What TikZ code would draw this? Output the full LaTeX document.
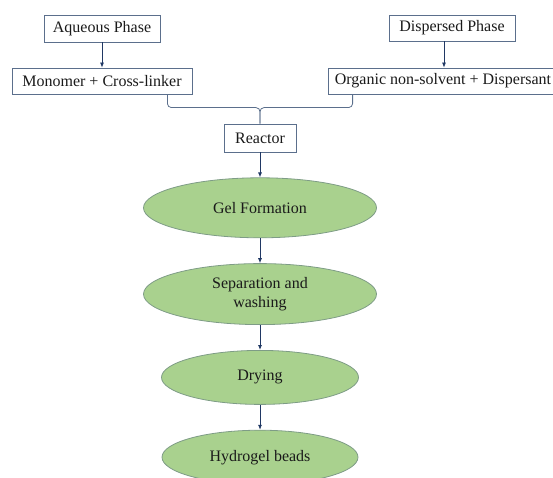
\documentclass[tikz,border=0pt]{standalone}
\usepackage{fontspec}
\setmainfont{Liberation Serif}
\usetikzlibrary{arrows.meta,positioning,shapes.geometric,calc}
\definecolor{boxline}{HTML}{5B6F8C}
\definecolor{arrowblue}{HTML}{203864}
\definecolor{gelfill}{HTML}{A9D18E}
\definecolor{gelline}{HTML}{7E9C86}
\definecolor{inktext}{HTML}{1A1A1A}

\begin{document}
\begin{tikzpicture}[x=1pt, y=-1pt,
  phasebox/.style={draw=boxline, line width=0.8pt, fill=white, minimum height=26pt, inner sep=2pt, align=center, text=inktext, font=\fontsize{16}{18.5}\selectfont},
  stagebox/.style={ellipse, draw=gelline, line width=0.8pt, fill=gelfill, inner sep=2pt, align=center, text=inktext, font=\fontsize{16}{18.5}\selectfont},
  arr/.style={-{Latex[length=5pt,width=4pt]}, line width=0.8pt, color=arrowblue},
  joinline/.style={draw=boxline, line width=0.8pt, rounded corners=4pt}
]
\useasboundingbox (0,0) rectangle (553,478);
\node[phasebox, minimum width=116pt, minimum height=27pt] (aq) at (102,28.5) {Aqueous Phase};
\node[phasebox, minimum width=126pt] (disp) at (452,28) {Dispersed Phase};
\node[phasebox, minimum width=180pt] (mono) at (102,81) {Monomer + Cross-linker};
\node[phasebox, minimum width=230pt] (org) at (443,81) {Organic non-solvent + Dispersant};
\node[phasebox, minimum width=72pt, minimum height=28pt] (reactor) at (260,138) {Reactor};
\node[stagebox, minimum width=233pt, minimum height=60pt, below=25pt of reactor] (gel) {Gel Formation};
\node[stagebox, minimum width=233pt, minimum height=61pt, below=25pt of gel] (sep) {Separation and\\washing};
\node[stagebox, minimum width=197pt, minimum height=54pt, below=25pt of sep] (dry) {Drying};
\node[stagebox, minimum width=196pt, minimum height=54pt, below=25pt of dry] (beads) {Hydrogel beads};
\coordinate (mid) at ($(reactor.north)+(0,-16)$);
\draw[arr] (aq.south) -- (mono.north);
\draw[arr] ([xshift=-8pt]disp.south) -- ([xshift=-8pt]disp.south |- org.north);
\draw[joinline] ([xshift=-25pt]mono.south east) |- (mid) -- (reactor.north);
\draw[joinline] ([xshift=25pt]org.south west) |- (mid) -- (reactor.north);
\draw[arr] (reactor) -- (gel); \draw[arr] (gel) -- (sep);
\draw[arr] (sep) -- (dry); \draw[arr] (dry) -- (beads);
\end{tikzpicture}
\end{document}
